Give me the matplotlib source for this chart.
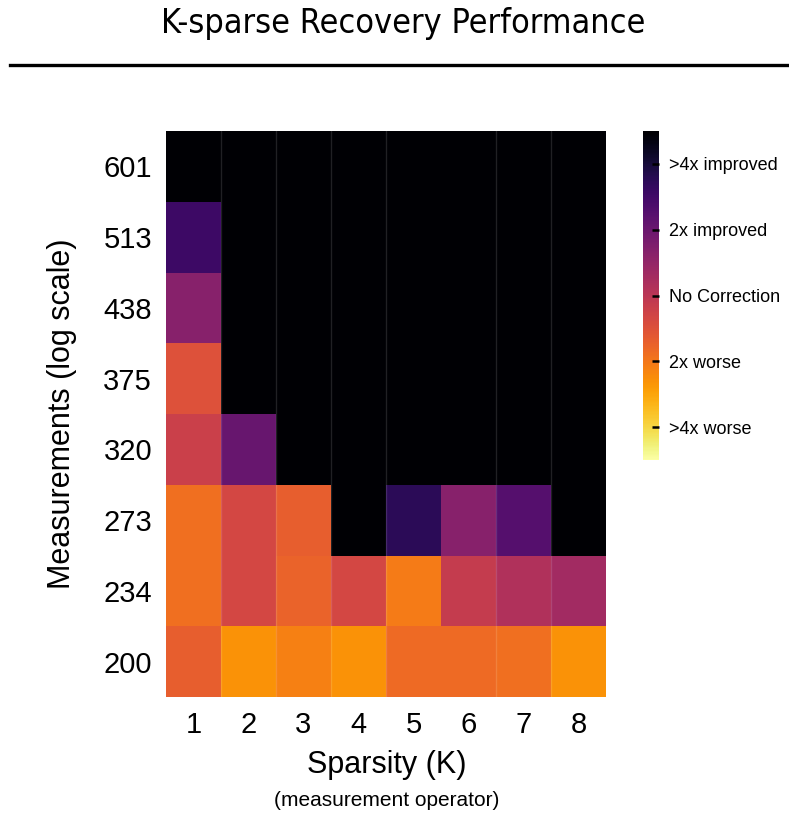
import numpy as np
import matplotlib
matplotlib.use('Agg')
import matplotlib.pyplot as plt
from matplotlib.lines import Line2D

# data: log2 of error ratio (positive = improved)
sparsity = [1, 2, 3, 4, 5, 6, 7, 8]
measurements = [200, 234, 273, 320, 375, 438, 513, 601]
row_200 = [-0.7, -1.3, -1.1, -1.3, -0.85, -0.85, -0.9, -1.3]
row_234 = [-0.9, -0.35, -0.75, -0.35, -1.05, -0.12, 0.15, 0.33]
row_273 = [-0.9, -0.35, -0.7, 3.0, 1.75, 0.65, 1.25, 3.0]
row_320 = [-0.2, 1.05, 3.0, 3.0, 3.0, 3.0, 3.0, 3.0]
row_375 = [-0.5, 3.0, 3.0, 3.0, 3.0, 3.0, 3.0, 3.0]
row_438 = [0.65, 3.0, 3.0, 3.0, 3.0, 3.0, 3.0, 3.0]
row_513 = [1.55, 3.0, 3.0, 3.0, 3.0, 3.0, 3.0, 3.0]
row_601 = [3.0, 3.0, 3.0, 3.0, 3.0, 3.0, 3.0, 3.0]
cbar_ticks = [2, 1, 0, -1, -2]
cbar_labels = ['>4x improved', '2x improved', 'No Correction', '2x worse', '>4x worse']

grid = np.array([row_200, row_234, row_273, row_320, row_375, row_438, row_513, row_601])

lab_font = ['Liberation Sans', 'DejaVu Sans']

fig = plt.figure(figsize=(7.89, 8.14), dpi=100)

# title + rule
fig.text(0.511, 0.971, 'K-sparse Recovery Performance', ha='center', va='center',
         fontsize=24.5, family='DejaVu Sans', fontstretch='condensed')
fig.add_artist(Line2D([10 / 789, 1.0], [1 - 65 / 814] * 2, color='black', lw=2.4,
                      transform=fig.transFigure))

ax = fig.add_axes([166 / 789, 1 - 697 / 814, 440 / 789, 566 / 814])
mesh = ax.pcolormesh(np.arange(len(sparsity) + 1) + 0.5,
                     np.arange(len(measurements) + 1) - 0.5,
                     grid, cmap='inferno_r', vmin=-2.5, vmax=2.5)
# faint seams between columns
for xb in [1.5, 2.5, 3.5, 4.5, 6.5, 7.5]:
    ax.axvline(xb, color='white', alpha=0.13, lw=1.0)

ax.set_xticks(sparsity)
ax.set_xticklabels([str(s) for s in sparsity], fontsize=21, family=lab_font)
ax.set_yticks(np.arange(len(measurements)))
ax.set_yticklabels([str(m) for m in measurements], fontsize=21, family=lab_font)
ax.tick_params(length=0, pad=10)
for sp in ax.spines.values():
    sp.set_visible(False)
ax.set_xlim(0.5, len(sparsity) + 0.5)
ax.set_ylim(-0.5, len(measurements) - 0.5)

ax.set_ylabel('Measurements (log scale)', fontsize=22, family=lab_font, labelpad=19)
fig.text(387 / 789, 1 - 765 / 814, 'Sparsity (K)', ha='center', va='center',
         fontsize=22, family=lab_font)
fig.text(387 / 789, 1 - 800 / 814, '(measurement operator)', ha='center', va='center',
         fontsize=15, family=lab_font)

cax = fig.add_axes([643 / 789, 1 - 460 / 814, 16 / 789, 329 / 814])
cb = fig.colorbar(mesh, cax=cax)
cb.outline.set_visible(False)
cb.set_ticks(cbar_ticks)
cb.set_ticklabels(cbar_labels)
cax.tick_params(direction='in', length=5, width=1.8, color='black', pad=7,
                labelsize=13)
for t in cax.get_yticklabels():
    t.set_family(lab_font)

plt.savefig('out.png', dpi=100)
